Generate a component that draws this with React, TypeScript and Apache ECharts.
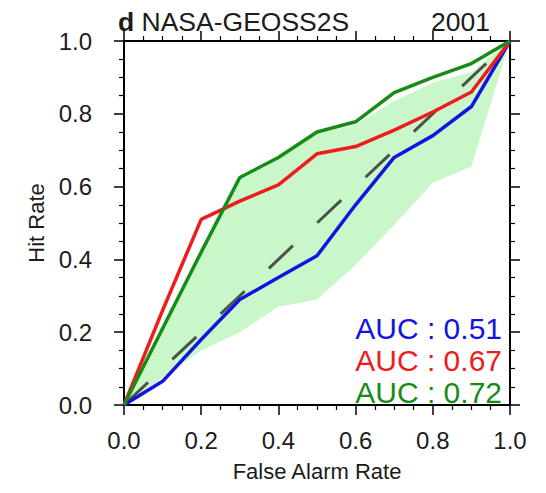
import React, { useEffect, useRef } from "react";
import * as echarts from "echarts";

const falseAlarm = [0, 0.1, 0.2, 0.3, 0.4, 0.5, 0.6, 0.7, 0.8, 0.9, 1.0];
const hitBlue = [0, 0.065, 0.18, 0.29, 0.35, 0.41, 0.55, 0.68, 0.74, 0.82, 1.0];
const hitRed = [0, 0.26, 0.51, 0.56, 0.605, 0.69, 0.71, 0.755, 0.805, 0.86, 1.0];
const hitGreen = [0, 0.21, 0.42, 0.625, 0.68, 0.75, 0.778, 0.858, 0.9, 0.938, 1.0];
const bandLower = [0, 0.075, 0.15, 0.2, 0.27, 0.29, 0.385, 0.495, 0.61, 0.655, 1.0];
const bandUpper = [0, 0.21, 0.42, 0.62, 0.675, 0.745, 0.77, 0.835, 0.885, 0.915, 1.0];
const diagonal = [0, 1];
const aucLabels = ["AUC : 0.51", "AUC : 0.67", "AUC : 0.72"];
const axisTicks = [0, 0.2, 0.4, 0.6, 0.8, 1.0];

const BLUE = "#1414e0";
const RED = "#ee1c1c";
const GREEN = "#168c16";
const TEXT = "#1c1c1c";
const FONT = "Liberation Sans, Arial, sans-serif";

function pairs(xs: number[], ys: number[]) {
  return xs.map((x, i) => [x, ys[i]]);
}

export default function App() {
  const ref = useRef<HTMLDivElement>(null);
  useEffect(() => {
    if (!ref.current) return;
    const chart = echarts.init(ref.current, undefined, { renderer: "svg" });
    const axisCommon = {
      type: "value" as const,
      min: axisTicks[0],
      max: axisTicks[axisTicks.length - 1],
      interval: 0.2,
      splitLine: { show: false },
      axisLine: { show: true, onZero: false, lineStyle: { color: "#000", width: 2 } },
      axisTick: { show: true, inside: false, length: 10, lineStyle: { color: "#000", width: 1.5 } },
      minorTick: { show: true, splitNumber: 4, length: 5, lineStyle: { color: "#000", width: 1.2 } },
    };
    const labelStyle = {
      fontSize: 24,
      color: TEXT,
      fontFamily: FONT,
      formatter: (v: number) => v.toFixed(1),
    };
    const upperPts = pairs(falseAlarm, bandUpper);
    const lowerPts = pairs(falseAlarm, bandLower).reverse();
    chart.setOption({
      animation: false,
      backgroundColor: "#fff",
      title: [
        {
          text: "{b|d} NASA-GEOSS2S",
          left: 113,
          top: 3,
          textStyle: {
            fontSize: 26.5,
            color: TEXT,
            fontFamily: FONT,
            fontWeight: "normal",
            rich: {
              b: { fontSize: 26.5, fontWeight: "bold", color: TEXT, fontFamily: FONT },
            },
          },
        },
        {
          text: "2001",
          right: 51,
          top: 3,
          textStyle: { fontSize: 26.5, color: TEXT, fontFamily: FONT, fontWeight: "normal" },
        },
      ],
      grid: { left: 124, right: 36, top: 41, bottom: 88, containLabel: false },
      xAxis: [
        {
          ...axisCommon,
          position: "bottom",
          axisLabel: { ...labelStyle, margin: 23 },
          name: "False Alarm Rate",
          nameLocation: "middle",
          nameGap: 55,
          nameTextStyle: { fontSize: 22, color: TEXT, fontFamily: FONT },
        },
        {
          ...axisCommon,
          position: "top",
          axisLabel: { show: false },
        },
      ],
      yAxis: [
        {
          ...axisCommon,
          position: "left",
          axisLabel: { ...labelStyle, margin: 32 },
          name: "Hit Rate",
          nameLocation: "middle",
          nameGap: 74,
          nameTextStyle: { fontSize: 22, color: TEXT, fontFamily: FONT },
        },
        {
          ...axisCommon,
          position: "right",
          axisLabel: { show: false },
        },
      ],
      series: [
        {
          type: "custom",
          data: [[0, 0]],
          silent: true,
          z: 1,
          renderItem: (params: any, api: any) => {
            if (params.dataIndex !== 0) return null;
            const pts = upperPts.concat(lowerPts).map((p) => api.coord(p));
            return {
              type: "polygon",
              shape: { points: pts },
              style: { fill: "#c9f7c9", stroke: "none" },
            };
          },
        },
        {
          type: "line",
          data: pairs(diagonal, diagonal),
          symbol: "none",
          lineStyle: { color: "#4a524a", width: 3, type: [33, 33.4] },
          z: 2,
        },
        {
          type: "line",
          data: pairs(falseAlarm, hitBlue),
          symbol: "none",
          lineStyle: { color: BLUE, width: 3.5 },
          z: 3,
        },
        {
          type: "line",
          data: pairs(falseAlarm, hitRed),
          symbol: "none",
          lineStyle: { color: RED, width: 3.5 },
          z: 3,
        },
        {
          type: "line",
          data: pairs(falseAlarm, hitGreen),
          symbol: "none",
          lineStyle: { color: GREEN, width: 3.5 },
          z: 4,
        },
      ],
      graphic: [
        {
          type: "group",
          right: 44,
          bottom: 86,
          children: aucLabels.map((t, i) => ({
            type: "text",
            x: 0,
            y: i * 32,
            style: {
              text: t,
              fill: [BLUE, RED, GREEN][i],
              fontSize: 30,
              fontFamily: FONT,
              textAlign: "right",
              textVerticalAlign: "bottom",
            },
          })),
        },
      ],
    });
    return () => chart.dispose();
  }, []);
  return <div ref={ref} style={{ width: 546, height: 493, margin: "-8px 0 0 -8px" }} />;
}
